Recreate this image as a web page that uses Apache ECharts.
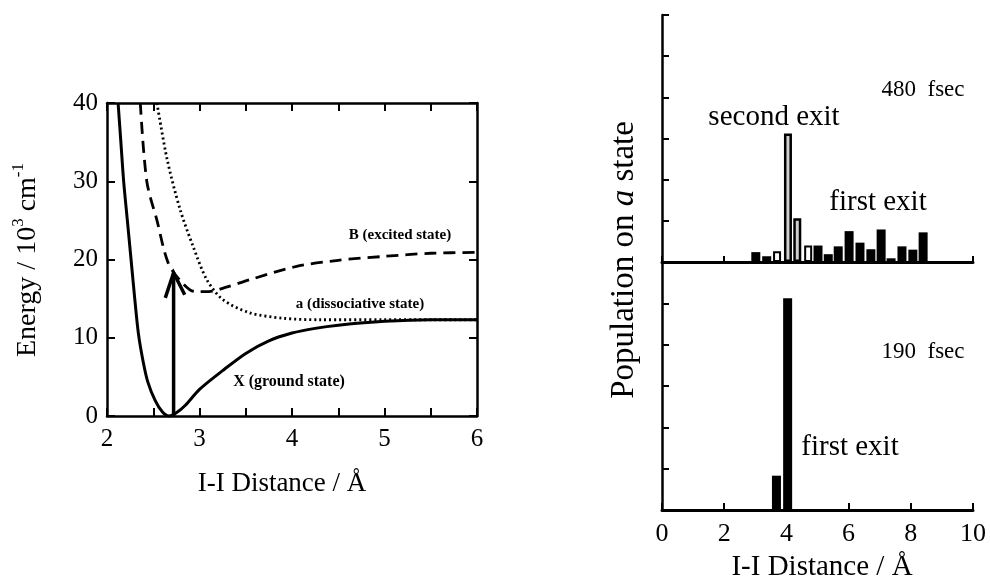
<!DOCTYPE html>
<html>
<head>
<meta charset="utf-8">
<script src="https://cdn.jsdelivr.net/npm/echarts@6/dist/echarts.min.js"></script>
<style>
  html, body { margin: 0; padding: 0; background: #fff; }
  #chart { width: 990px; height: 584px; }
</style>
</head>
<body>
<div id="chart"></div>
<script>
// left panel: potential curves, [distance (A), energy (10^3 cm-1)]
const groundX = [[2.12, 40], [2.15, 35], [2.18, 30], [2.22, 25], [2.26, 20], [2.3, 15], [2.34, 10.5], [2.39, 7], [2.44, 4.4],
  [2.52, 2], [2.6, 0.5], [2.67, 0], [2.75, 0.4], [2.85, 1.4], [3.0, 3.4], [3.25, 5.8], [3.5, 8.0], [3.75, 9.6],
  [4.0, 10.6], [4.25, 11.2], [4.5, 11.6], [5.0, 12.1], [5.5, 12.3], [6.0, 12.3]]
const excitedB = [[2.36, 40], [2.43, 30], [2.54, 25], [2.66, 19.6], [2.8, 17.2], [2.95, 15.9], [3.1, 15.9], [3.3, 16.5],
  [3.54, 17.4], [4.04, 19.1], [4.5, 19.9], [5.0, 20.4], [5.5, 20.8], [6.0, 20.9]]
const dissocA = [[2.54, 40], [2.65, 32.8], [2.79, 26.4], [2.93, 21.7], [3.08, 17.4], [3.25, 14.9], [3.54, 13.2],
  [3.9, 12.5], [4.3, 12.3], [5.0, 12.3], [6.0, 12.3]]
const arrowShaft = [[2.72, 0], [2.72, 18.3]]
const arrowHead = [[2.63, 15.1], [2.72, 18.3], [2.84, 15.5]]

// right panel: populations on the a state, [distance (A), population]
const pop480Solid = [[3.0, 0.24], [3.35, 0.14], [5.0, 0.4], [5.33, 0.19], [5.65, 0.38], [6.0, 0.75], [6.35, 0.47],
  [6.7, 0.31], [7.03, 0.79], [7.35, 0.09], [7.7, 0.38], [8.05, 0.3], [8.38, 0.72]]
const pop480Open = [[3.7, 0.26], [4.7, 0.4]]
const pop480Hatched = [[4.05, 3.12], [4.35, 1.06]]
const pop190Solid = [[3.68, 0.83], [4.04, 5.12]]

const serif = 'Liberation Serif'
const black = '#000'

const chart = echarts.init(document.getElementById('chart'))

function boxAxis(extra) {
  return Object.assign({
    axisLine: { show: true, onZero: false, lineStyle: { color: black, width: 2.5 } },
    axisTick: { show: true, inside: true, length: 8, lineStyle: { color: black, width: 2 } },
    splitLine: { show: false }
  }, extra)
}

const intOnly = v => (Math.abs(v - Math.round(v)) < 1e-6 ? String(Math.round(v)) : '')

chart.setOption({
  animation: false,
  backgroundColor: '#fff',
  grid: [
    { left: 107, top: 103, width: 370, height: 313 },
    { left: 662, top: 15, width: 311, height: 247 },
    { left: 662, top: 262, width: 311, height: 248 }
  ],
  xAxis: [
    boxAxis({ type: 'value', gridIndex: 0, min: 2, max: 6, interval: 0.5, position: 'bottom',
      axisLabel: { formatter: intOnly, color: black, fontFamily: serif, fontSize: 25, margin: 11 } }),
    boxAxis({ type: 'value', gridIndex: 0, min: 2, max: 6, interval: 0.5, position: 'top', axisLabel: { show: false } }),
    boxAxis({ type: 'value', gridIndex: 1, min: 0, max: 10, interval: 2, position: 'bottom',
      axisLine: { show: true, onZero: false, lineStyle: { color: black, width: 3 } },
      axisTick: { show: true, inside: true, length: 6, lineStyle: { color: black, width: 2 } },
      axisLabel: { show: false } }),
    boxAxis({ type: 'value', gridIndex: 2, min: 0, max: 10, interval: 2, position: 'bottom',
      axisLine: { show: true, onZero: false, lineStyle: { color: black, width: 3 } },
      axisTick: { show: true, inside: true, length: 7, lineStyle: { color: black, width: 2 } },
      axisLabel: { color: black, fontFamily: serif, fontSize: 26, margin: 11 } })
  ],
  yAxis: [
    boxAxis({ type: 'value', gridIndex: 0, min: 0, max: 40, interval: 10, position: 'left',
      axisLabel: { color: black, fontFamily: serif, fontSize: 25, margin: 9 } }),
    boxAxis({ type: 'value', gridIndex: 0, min: 0, max: 40, interval: 10, position: 'right', axisLabel: { show: false } }),
    boxAxis({ type: 'value', gridIndex: 1, min: 0, max: 6, interval: 1, position: 'left',
      axisTick: { show: true, inside: true, length: 7, lineStyle: { color: black, width: 2 } },
      axisLabel: { show: false } }),
    boxAxis({ type: 'value', gridIndex: 2, min: 0, max: 6, interval: 1, position: 'left',
      axisTick: { show: true, inside: true, length: 7, lineStyle: { color: black, width: 2 } },
      axisLabel: { show: false } })
  ],
  series: [
    { type: 'line', xAxisIndex: 0, yAxisIndex: 0, data: groundX, smooth: 0.3, showSymbol: false,
      lineStyle: { color: black, width: 3 } },
    { type: 'line', xAxisIndex: 0, yAxisIndex: 0, data: excitedB, smooth: 0.3, showSymbol: false,
      lineStyle: { color: black, width: 2.8, type: [12, 7] } },
    { type: 'line', xAxisIndex: 0, yAxisIndex: 0, data: dissocA, smooth: 0.3, showSymbol: false,
      lineStyle: { color: black, width: 2.8, type: [2, 3] } },
    { type: 'line', xAxisIndex: 0, yAxisIndex: 0, data: arrowShaft, showSymbol: false,
      lineStyle: { color: black, width: 3.5 } },
    { type: 'line', xAxisIndex: 0, yAxisIndex: 0, data: arrowHead, showSymbol: false,
      lineStyle: { color: black, width: 3.5, join: 'miter' } },

    { type: 'bar', xAxisIndex: 2, yAxisIndex: 2, data: pop480Solid, barWidth: 9, barGap: '-100%',
      itemStyle: { color: black } },
    { type: 'bar', xAxisIndex: 2, yAxisIndex: 2, data: pop480Open, barWidth: 8, barGap: '-100%',
      itemStyle: { color: '#fff', borderColor: black, borderWidth: 2 } },
    { type: 'bar', xAxisIndex: 2, yAxisIndex: 2, data: pop480Hatched, barWidth: 8, barGap: '-100%',
      itemStyle: { color: '#cfcfcf', borderColor: black, borderWidth: 2.5 } },
    { type: 'bar', xAxisIndex: 3, yAxisIndex: 3, data: pop190Solid, barWidth: 9,
      itemStyle: { color: black } }
  ],
  graphic: [
    { type: 'text', x: 400, y: 235, style: { text: 'B (excited state)', align: 'center', verticalAlign: 'middle',
      font: 'bold 15px "Liberation Serif"', fill: black } },
    { type: 'text', x: 360, y: 304, style: { text: 'a (dissociative state)', align: 'center', verticalAlign: 'middle',
      font: 'bold 15px "Liberation Serif"', fill: black } },
    { type: 'text', x: 289, y: 382, style: { text: 'X (ground state)', align: 'center', verticalAlign: 'middle',
      font: 'bold 16px "Liberation Serif"', fill: black } },
    { type: 'text', x: 282, y: 484, style: { text: 'I-I Distance / Å', align: 'center', verticalAlign: 'middle',
      font: '27px "Liberation Serif"', fill: black } },
    { type: 'text', x: 26, y: 260, rotation: Math.PI / 2,
      style: { text: '{n|Energy / 10}{s|3}{n| cm}{s|-1}', align: 'center', verticalAlign: 'middle',
        rich: {
          n: { fontFamily: serif, fontSize: 28, lineHeight: 32, verticalAlign: 'bottom', fill: black },
          s: { fontFamily: serif, fontSize: 17, lineHeight: 32, verticalAlign: 'top', fill: black }
        } } },

    { type: 'text', x: 624, y: 260, rotation: Math.PI / 2,
      style: { text: '{n|Population on }{i|a}{n| state}', align: 'center', verticalAlign: 'middle',
        rich: {
          n: { fontFamily: serif, fontSize: 33, fill: black },
          i: { fontFamily: serif, fontSize: 33, fontStyle: 'italic', fill: black }
        } } },
    { type: 'text', x: 923, y: 90, style: { text: '480  fsec', align: 'center', verticalAlign: 'middle',
      font: '23px "Liberation Serif"', fill: black } },
    { type: 'text', x: 774, y: 117, style: { text: 'second exit', align: 'center', verticalAlign: 'middle',
      font: '29px "Liberation Serif"', fill: black } },
    { type: 'text', x: 878, y: 202, style: { text: 'first exit', align: 'center', verticalAlign: 'middle',
      font: '29px "Liberation Serif"', fill: black } },
    { type: 'text', x: 923, y: 352, style: { text: '190  fsec', align: 'center', verticalAlign: 'middle',
      font: '23px "Liberation Serif"', fill: black } },
    { type: 'text', x: 850, y: 447, style: { text: 'first exit', align: 'center', verticalAlign: 'middle',
      font: '29px "Liberation Serif"', fill: black } },
    { type: 'text', x: 822, y: 567, style: { text: 'I-I Distance / Å', align: 'center', verticalAlign: 'middle',
      font: '29px "Liberation Serif"', fill: black } }
  ]
})
</script>
</body>
</html>
